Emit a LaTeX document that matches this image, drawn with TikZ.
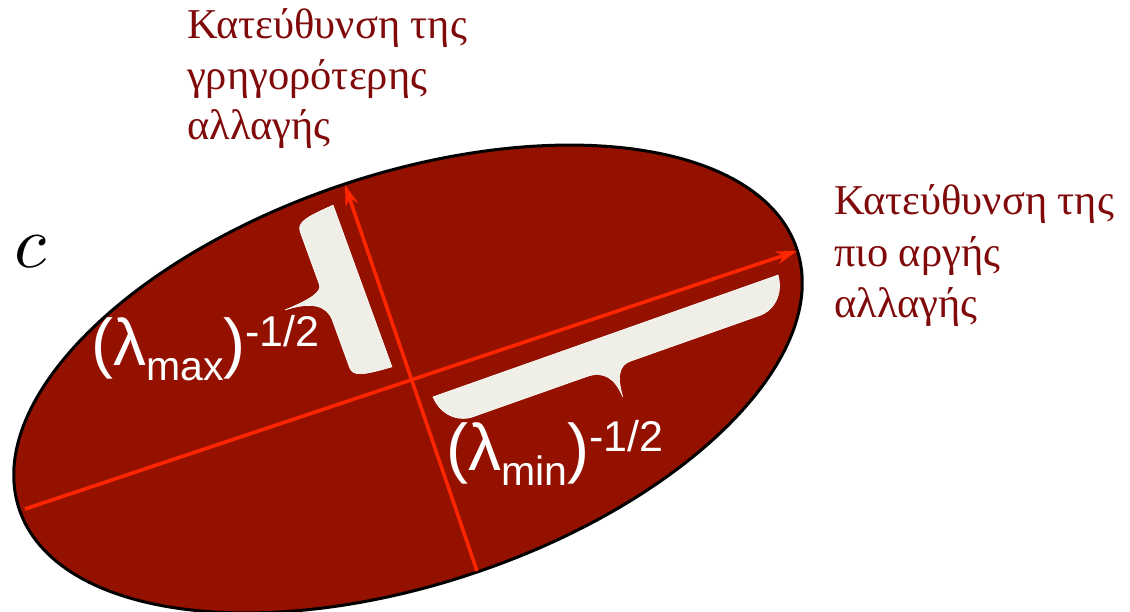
\documentclass[tikz,border=0pt]{standalone}
\usepackage{fontspec}
\setmainfont{Liberation Serif}
\newfontfamily\labelfont{Liberation Sans}
\usetikzlibrary{arrows.meta}
\definecolor{ellred}{RGB}{148,17,0}
\definecolor{axisred}{RGB}{255,38,0}
\definecolor{bracecol}{RGB}{239,239,231}
\definecolor{textred}{RGB}{128,10,10}
% L t e c h w+ w-
\newcommand{\mybrace}[7]{%
  \filldraw[bracestyle] (-#1,0) -- (#1,0)
  .. controls ({#1-2},{0.75*#2}) and ({#1-#3+10},#2) .. ({#1-#3},#2)
  -- ({#4+#6},#2)
  .. controls ({#4+0.35*#6},#2) and ({#4+1},{#2+0.35*(#5-#2)}) .. (#4,#5)
  .. controls ({#4-1},{#2+0.35*(#5-#2)}) and ({#4-0.35*#7},#2) .. ({#4-#7},#2)
  -- ({-#1+#3},#2)
  .. controls ({-#1+#3-10},#2) and ({-#1+2},{0.75*#2}) .. (-#1,0) -- cycle;}
\tikzset{
  ellstyle/.style={fill=ellred, draw=black, line width=3bp},
  bracestyle/.style={fill=bracecol, draw=white, line width=0.6bp},
  axisstyle/.style={draw=axisred, line width=3.5bp, -{Stealth[length=21bp,width=13bp,inset=7bp]}},
  greektext/.style={text=textred, inner sep=0, anchor=base west, font=\fontsize{42.5bp}{50bp}\selectfont},
  eiglabel/.style={text=white, inner sep=0, anchor=base west, font=\labelfont}
}
\newcommand{\eig}[1]{{\fontsize{66bp}{68bp}\selectfont (λ}\raisebox{-15bp}{\fontsize{41bp}{43bp}\selectfont #1}{\fontsize{66bp}{68bp}\selectfont )}\raisebox{19bp}{\fontsize{43bp}{45bp}\selectfont -1/2}}
\begin{document}
\begin{tikzpicture}[x=1bp,y=-1bp]
\useasboundingbox (0,0) rectangle (1130,612);
% ellipse
\draw[ellstyle, rotate around={18.5:(408,379)}] (408,379) ellipse [x radius=410, y radius=205];
% braces
\begin{scope}[shift={(362.5,286)}, rotate=-70]
  \mybrace{86}{40}{14}{-4}{81}{26}{12}
\end{scope}
\begin{scope}[shift={(605.5,336)}, rotate=19.45]
  \mybrace{183}{32}{30}{-4}{63}{19}{27}
\end{scope}
% axes
\coordinate (majL) at (25,509);
\coordinate (majR) at (797,251);
\coordinate (minB) at (477,571);
\coordinate (minT) at (345,185);
\draw[axisstyle] (majL) -- (majR);
\draw[axisstyle] (minB) -- (minT);
% labels
\node[eiglabel] (lmax) at (91,365) {\eig{max}};
\node[eiglabel] (lmin) at (446,470) {\eig{min}};
\node[inner sep=0, anchor=base west, scale=7.4, transform shape] (cc) at (13,268) {$c$};
% direction texts
\node[greektext] (dirA1) at (187,39) {Κατεύθυνση της};
\node[greektext] (dirA2) at (187,89.5) {γρηγορότερης};
\node[greektext] (dirA3) at (187,140) {αλλαγής};
\node[greektext] (dirB1) at (834,215) {Κατεύθυνση της};
\node[greektext] (dirB2) at (834,266.5) {πιο αργής};
\node[greektext] (dirB3) at (834,318) {αλλαγής};
\end{tikzpicture}
\end{document}
